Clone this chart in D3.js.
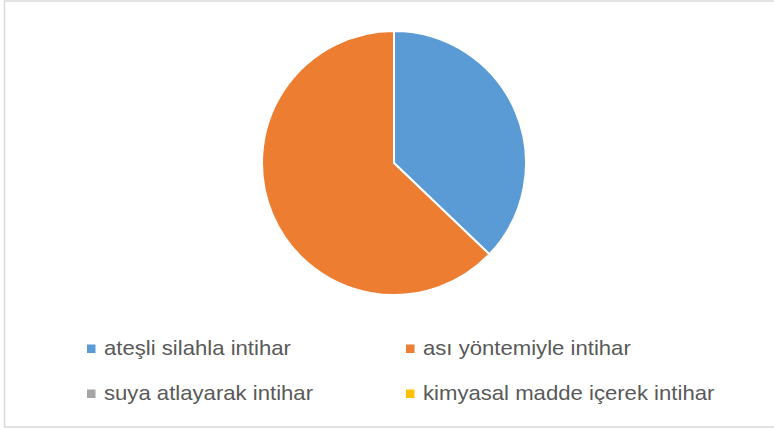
<!DOCTYPE html>
<html>
<head>
<meta charset="utf-8">
<script src="https://cdn.jsdelivr.net/npm/d3@7"></script>
<style>
  body { margin: 0; background: #fff; }
  text { font-family: "Liberation Sans", Arial, sans-serif; fill: #595959; }
</style>
</head>
<body>
<div id="chart"></div>
<script>
// data
var categories = ["ateşli silahla intihar", "ası yöntemiyle intihar", "suya atlayarak intihar", "kimyasal madde içerek intihar"]
var values = [13, 22, 0, 0]
var colors = ["#5b9bd5", "#ed7d31", "#a5a5a5", "#ffc000"]

var width = 774, height = 430
var cx = 394, cy = 163, radius = 132

var svg = d3.select("#chart").append("svg")
    .attr("width", width)
    .attr("height", height)

// chart area border
svg.append("rect")
    .attr("x", 4.5).attr("y", 1)
    .attr("width", 780).attr("height", 426)
    .attr("fill", "#fff")
    .attr("stroke", "#d9d9d9")
    .attr("stroke-width", 1.5)

var data = categories.map(function(c, i) { return {name: c, value: values[i], color: colors[i]} })

var pie = d3.pie()
    .sort(null)
    .value(function(d) { return d.value })

var arc = d3.arc()
    .innerRadius(0)
    .outerRadius(radius)

svg.append("g")
    .attr("transform", "translate(" + cx + "," + cy + ")")
  .selectAll("path")
    .data(pie(data).filter(function(d) { return d.data.value > 0 }))
  .enter().append("path")
    .attr("d", arc)
    .attr("fill", function(d) { return d.data.color })
    .attr("stroke", "#fff")
    .attr("stroke-width", 2)
    .attr("stroke-linejoin", "miter")

// legend: 2 columns x 2 rows
var colX = d3.scalePoint().domain([0, 1]).range([87, 406])
var rowY = d3.scalePoint().domain([0, 1]).range([349, 394])

var legend = svg.selectAll(".legend")
    .data(data)
  .enter().append("g")
    .attr("class", "legend")
    .attr("transform", function(d, i) { return "translate(" + colX(i % 2) + "," + rowY(Math.floor(i / 2)) + ")" })

legend.append("rect")
    .attr("x", 0).attr("y", -4.5)
    .attr("width", 8.5).attr("height", 8.5)
    .attr("fill", function(d) { return d.color })

// reference font is a narrow face drawn wide, so stretch horizontally a bit
legend.append("text")
    .attr("transform", "translate(17,5.5) scale(1.107,1)")
    .style("font-size", "20px")
    .text(function(d) { return d.name })
</script>
</body>
</html>
